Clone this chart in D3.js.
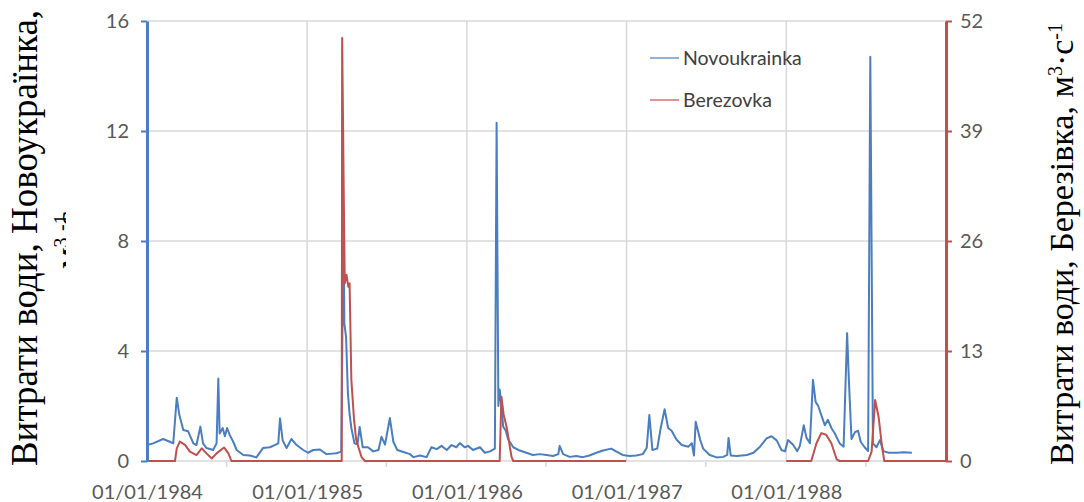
<!DOCTYPE html>
<html>
<head>
<meta charset="utf-8">
<script src="https://cdn.jsdelivr.net/npm/d3@7"></script>
<style>
  body { margin: 0; background: #fff; }
  svg { display: block; }
</style>
</head>
<body>
<svg id="chart" width="1084" height="502"></svg>
<script>
// Daily discharge, Novoukrainka gauge (left axis), m3/s
const novoukrainkaDates = [
  "1984-01-01","1984-01-15","1984-02-07","1984-02-22","1984-03-01","1984-03-09","1984-03-15","1984-03-24",
  "1984-04-04","1984-04-16","1984-04-23","1984-05-02","1984-05-08","1984-05-16","1984-05-31","1984-06-08",
  "1984-06-12","1984-06-15","1984-06-22","1984-06-27","1984-07-02","1984-07-08","1984-07-16","1984-07-24",
  "1984-08-08","1984-08-23","1984-09-07","1984-09-22","1984-10-08","1984-10-19","1984-10-27","1984-10-31",
  "1984-11-06","1984-11-15","1984-11-26","1984-12-08","1984-12-23","1985-01-03","1985-01-15","1985-01-30",
  "1985-02-14","1985-03-09","1985-03-20","1985-03-25","1985-03-27","1985-03-31","1985-04-04","1985-04-08",
  "1985-04-12","1985-04-19","1985-04-26","1985-05-01","1985-05-08","1985-05-20","1985-06-01","1985-06-13",
  "1985-06-20","1985-06-28","1985-07-09","1985-07-17","1985-07-26","1985-08-09","1985-08-24","1985-09-01",
  "1985-09-16","1985-10-01","1985-10-12","1985-10-24","1985-11-04","1985-11-16","1985-11-27","1985-12-08",
  "1985-12-16","1985-12-27","1986-01-04","1986-01-15","1986-01-31","1986-02-11","1986-02-23","1986-03-06",
  "1986-03-10","1986-03-14","1986-03-17","1986-03-21","1986-03-25","1986-03-31","1986-04-05","1986-04-17",
  "1986-05-02","1986-05-17","1986-06-01","1986-06-17","1986-07-02","1986-07-17","1986-07-29","1986-08-01",
  "1986-08-09","1986-08-24","1986-09-08","1986-09-23","1986-10-08","1986-10-24","1986-11-08","1986-11-27",
  "1986-12-08","1986-12-23","1987-01-08","1987-01-23","1987-02-07","1987-02-16","1987-02-22","1987-03-01",
  "1987-03-12","1987-03-20","1987-03-29","1987-04-06","1987-04-14","1987-04-25","1987-05-07","1987-05-22",
  "1987-05-30","1987-06-04","1987-06-08","1987-06-18","1987-06-25","1987-07-10","1987-07-26","1987-08-10",
  "1987-08-19","1987-08-22","1987-08-27","1987-09-10","1987-10-03","1987-10-18","1987-11-02","1987-11-17",
  "1987-11-28","1987-12-10","1987-12-21","1987-12-29","1988-01-05","1988-01-16","1988-01-26","1988-02-01",
  "1988-02-10","1988-02-16","1988-02-24","1988-03-02","1988-03-08","1988-03-14","1988-03-21","1988-03-29",
  "1988-04-05","1988-04-13","1988-04-21","1988-05-02","1988-05-11","1988-05-19","1988-05-23","1988-05-29",
  "1988-06-06","1988-06-13","1988-06-19","1988-06-28","1988-07-06","1988-07-11","1988-07-17","1988-07-25",
  "1988-08-02","1988-08-10","1988-08-22","1988-09-10","1988-09-25","1988-10-14"
];
const novoukrainkaFlow = [
  0.58,0.64,0.80,0.70,0.64,2.30,1.67,1.13,
  1.08,0.64,0.58,1.25,0.64,0.47,0.40,0.64,
  3.00,1.00,1.20,0.90,1.20,0.95,0.70,0.40,
  0.22,0.20,0.13,0.47,0.50,0.58,0.64,1.55,
  0.75,0.47,0.80,0.58,0.40,0.30,0.40,0.42,
  0.25,0.28,0.34,8.90,5.00,4.50,2.50,1.70,
  1.20,0.65,0.60,1.24,0.50,0.50,0.35,0.40,
  0.88,0.60,1.56,0.70,0.40,0.33,0.25,0.14,
  0.20,0.14,0.50,0.43,0.55,0.40,0.58,0.50,
  0.65,0.50,0.55,0.40,0.50,0.30,0.35,0.45,
  12.3,2.00,2.60,2.00,1.25,1.10,0.80,0.50,
  0.38,0.30,0.22,0.25,0.22,0.18,0.25,0.55,
  0.25,0.15,0.18,0.14,0.20,0.30,0.38,0.45,
  0.35,0.22,0.18,0.20,0.25,0.47,1.67,0.40,
  0.45,1.20,1.88,1.20,1.10,0.78,0.58,0.52,
  0.65,0.20,1.43,0.78,0.45,0.22,0.13,0.15,
  0.22,0.84,0.20,0.18,0.22,0.30,0.52,0.82,
  0.90,0.75,0.40,0.35,0.76,0.60,0.36,0.55,
  1.30,0.85,0.65,2.95,2.15,2.00,1.67,1.30,
  1.50,1.20,1.00,0.64,0.52,4.65,2.95,0.80,
  1.05,1.10,0.70,0.50,0.36,14.7,0.64,0.50,
  0.76,0.36,0.30,0.30,0.32,0.30
];

// Daily discharge, Berezovka gauge (right axis), m3/s; 1987 is not recorded
const berezovkaDates = [
  "1984-01-01","1984-03-05","1984-03-09","1984-03-16","1984-03-28","1984-04-08","1984-04-23","1984-05-05",
  "1984-05-16","1984-05-28","1984-06-08","1984-06-25","1984-07-05","1984-07-12","1985-03-21","1985-03-22",
  "1985-03-26","1985-03-28","1985-04-01","1985-04-05","1985-04-08","1985-04-12","1985-04-18","1985-04-23",
  "1985-05-05","1985-05-13","1986-03-17","1986-03-21","1986-03-26","1986-04-02","1986-04-13","1986-04-17",
  "1986-12-31","1987-07-01","1988-01-01","1988-02-27","1988-03-10","1988-03-21","1988-04-01","1988-04-13",
  "1988-04-25","1988-05-02","1988-07-06","1988-07-14","1988-07-22","1988-07-30","1988-08-07","1988-08-12",
  "1988-12-31"
];
const berezovkaFlow = [
  0,0,1.5,2.3,1.9,1.1,0.7,1.5,
  0.9,0.3,0.9,1.6,0.9,0,0,50,
  30,21,22,20.6,21,9.6,5,2.5,
  0.5,0,0,7.6,5.5,4.0,0.5,0,
  0,null,0,0,2.1,3.3,3.1,2.1,
  0.2,0,0,1.1,7.2,5.2,1.6,0,
  0
];

const leftTicks = [0, 4, 8, 12, 16];
const rightTicks = [0, 13, 26, 39, 52];
const yearTicks = ["1984-01-01", "1985-01-01", "1986-01-01", "1987-01-01", "1988-01-01"];
const halfYearTicks = ["1984-07-01", "1985-07-01", "1986-07-01", "1987-07-01", "1988-07-01"];
const seriesNames = ["Novoukrainka", "Berezovka"];

const parse = d3.utcParse("%Y-%m-%d");
const fmt = d3.utcFormat("%d/%m/%Y");

const BLUE = "#4a7ec0";
const RED = "#c0504d";
const GRID = "#d9d9d9";
const TICK_TEXT = "#595959";

const svg = d3.select("#chart");
const plotLeft = 147, plotRight = 946, plotTop = 21, plotBottom = 461;

const x = d3.scaleUtc()
  .domain([parse("1984-01-01"), parse("1988-12-31")])
  .range([plotLeft, plotRight]);
const yL = d3.scaleLinear().domain([0, 16]).range([plotBottom, plotTop]);
const yR = d3.scaleLinear().domain([0, 52]).range([plotBottom, plotTop]);

// grid
const grid = svg.append("g");
grid.selectAll("line.h").data(leftTicks).join("line")
  .attr("x1", plotLeft).attr("x2", plotRight)
  .attr("y1", d => yL(d)).attr("y2", d => yL(d))
  .attr("stroke", GRID).attr("stroke-width", 1.5);
grid.selectAll("line.v").data(yearTicks.slice(1)).join("line")
  .attr("x1", d => x(parse(d))).attr("x2", d => x(parse(d)))
  .attr("y1", plotTop).attr("y2", plotBottom)
  .attr("stroke", GRID).attr("stroke-width", 1.5);
grid.selectAll("line.m").data(halfYearTicks).join("line")
  .attr("x1", d => x(parse(d))).attr("x2", d => x(parse(d)))
  .attr("y1", plotBottom).attr("y2", plotBottom + 6)
  .attr("stroke", GRID).attr("stroke-width", 1.5);

// series
const novo = novoukrainkaDates.map((d, i) => ({ date: parse(d), v: novoukrainkaFlow[i] }));
const bere = berezovkaDates.map((d, i) => ({ date: parse(d), v: berezovkaFlow[i] }));

svg.append("path").datum(novo)
  .attr("fill", "none").attr("stroke", BLUE).attr("stroke-width", 2)
  .attr("stroke-linejoin", "round")
  .attr("d", d3.line().x(d => x(d.date)).y(d => yL(d.v)));

svg.append("path").datum(bere)
  .attr("fill", "none").attr("stroke", RED).attr("stroke-width", 2)
  .attr("stroke-linejoin", "round")
  .attr("d", d3.line().defined(d => d.v != null).x(d => x(d.date)).y(d => yR(d.v)));

// axes
const axL = svg.append("g").attr("transform", `translate(${plotLeft},0)`)
  .call(d3.axisLeft(yL).tickValues(leftTicks).tickSize(6).tickSizeOuter(0).tickPadding(12));
axL.select(".domain").attr("stroke", BLUE).attr("stroke-width", 3);
axL.selectAll(".tick line").attr("stroke", BLUE).attr("stroke-width", 2);

const axR = svg.append("g").attr("transform", `translate(${plotRight},0)`)
  .call(d3.axisRight(yR).tickValues(rightTicks).tickSize(6).tickSizeOuter(0).tickPadding(8));
axR.select(".domain").attr("stroke", RED).attr("stroke-width", 3);
axR.selectAll(".tick line").attr("stroke", RED).attr("stroke-width", 2);

const axB = svg.append("g").attr("transform", `translate(0,${plotBottom})`)
  .call(d3.axisBottom(x).tickValues(yearTicks.map(parse)).tickFormat(fmt).tickSize(0).tickPadding(24));
axB.select(".domain").remove();

svg.selectAll(".tick text")
  .attr("font-family", "Lato, 'Open Sans', sans-serif")
  .attr("font-size", 20)
  .attr("fill", TICK_TEXT);

// legend
const legend = svg.append("g").attr("transform", "translate(650,58)");
[BLUE, RED].forEach((c, i) => {
  const row = legend.append("g").attr("transform", `translate(0,${i * 42})`);
  row.append("line").attr("x1", 0).attr("x2", 29).attr("y1", 0).attr("y2", 0)
    .attr("stroke", c).attr("stroke-width", 1.5).attr("opacity", 0.8);
  row.append("text").attr("x", 33).attr("y", 0).attr("dy", "0.35em")
    .attr("font-family", "Lato, 'Open Sans', sans-serif").attr("font-size", 19.5)
    .attr("fill", "#404040").text(seriesNames[i]);
});

// axis titles
const serif = "'Liberation Serif', 'DejaVu Serif', serif";
svg.append("text")
  .attr("transform", "translate(37,238) rotate(-90)")
  .attr("text-anchor", "middle")
  .attr("font-family", serif).attr("font-size", 37).attr("fill", "#000")
  .text("Витрати води, Новоукраїнка,");

// second title line is cut by the chart area; only its raised exponents show
svg.append("clipPath").attr("id", "unitClip")
  .append("rect").attr("x", 0).attr("y", 0).attr("width", 66).attr("height", 502);
const unit = svg.append("g").attr("clip-path", "url(#unitClip)")
  .append("text")
  .attr("transform", "translate(79,240) rotate(-90)")
  .attr("text-anchor", "middle")
  .attr("font-family", serif).attr("font-size", 34).attr("fill", "#000");
unit.append("tspan").text("м");
unit.append("tspan").attr("font-size", 20).attr("baseline-shift", "super").text("3");
unit.append("tspan").text("·с");
unit.append("tspan").attr("dx", -20).attr("font-size", 20).attr("baseline-shift", "super").text("-1");

const rt = svg.append("text")
  .attr("transform", "translate(1073,244) rotate(-90)")
  .attr("text-anchor", "middle")
  .attr("font-family", serif).attr("font-size", 34).attr("fill", "#000");
rt.append("tspan").text("Витрати води, Березівка, м");
rt.append("tspan").attr("font-size", 20).attr("baseline-shift", "super").text("3");
rt.append("tspan").text("·с");
rt.append("tspan").attr("font-size", 20).attr("baseline-shift", "super").text("-1");
</script>
</body>
</html>
